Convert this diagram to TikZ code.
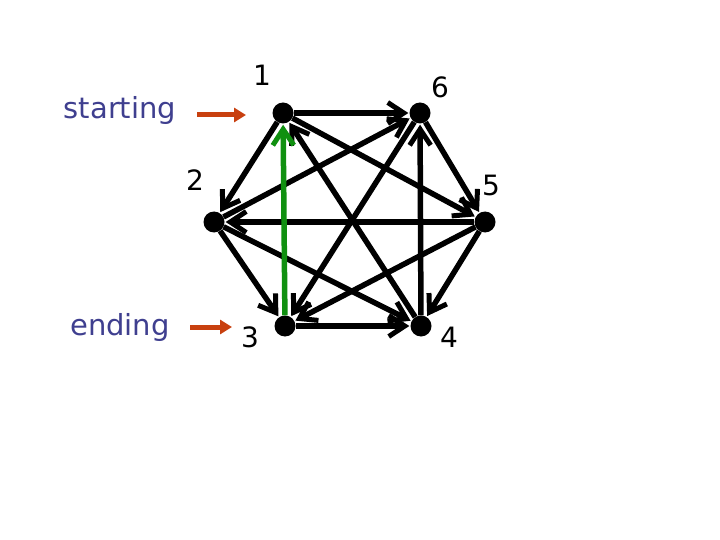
\documentclass[tikz,border=0pt]{standalone}
\usepackage{fontspec}
\setmainfont{DejaVu Sans}
\usetikzlibrary{arrows.meta}
\definecolor{lblblue}{HTML}{3F3F8F}
\definecolor{startred}{HTML}{C8400F}
\definecolor{edgegreen}{HTML}{109010}
\begin{document}
\begin{tikzpicture}[x=1pt,y=-1pt,
  vert/.style={circle,fill=black,inner sep=0pt,minimum size=21pt},
  numlbl/.style={font=\fontsize{28}{30}\selectfont,text=black,inner sep=0pt},
  sidelbl/.style={font=\fontsize{29}{32}\selectfont,text=lblblue,inner sep=0pt},
  edge/.style={line width=5.5pt,-{Straight Barb[length=16pt,width=21pt,line width=5pt]},shorten >=1pt},
  pointer/.style={line width=5pt,draw=startred,-{Triangle[length=12pt,width=14pt]}}]
\useasboundingbox (0,0) rectangle (720,540);
\node[vert] (n1) at (283,113) {};
\node[vert] (n6) at (420,113) {};
\node[vert] (n2) at (214,222) {};
\node[vert] (n5) at (485,222) {};
\node[vert] (n3) at (285,326) {};
\node[vert] (n4) at (421,326) {};
\node[numlbl] (l1) at (262,75) {1};
\node[numlbl] (l6) at (440,87) {6};
\node[numlbl] (l2) at (195,180) {2};
\node[numlbl] (l5) at (491,185) {5};
\node[numlbl] (l3) at (250,337) {3};
\node[numlbl] (l4) at (449,337) {4};
\node[sidelbl] (start) at (120,111) {starting};
\node[sidelbl] (endlbl) at (120,327) {ending};
\coordinate (sa) at (197,115);
\coordinate (sb) at (246,115);
\coordinate (ea) at (190,327);
\coordinate (eb) at (232,327);
\draw[pointer] (sa) -- (sb);
\draw[pointer] (ea) -- (eb);
\draw[edge] (n1) -- (n6);
\draw[edge] (n1) -- (n2);
\draw[edge] (n1) -- (n5);
\draw[edge] (n4) -- (n1);
\draw[edge] (n2) -- (n6);
\draw[edge] (n4) -- (n6);
\draw[edge] (n6) -- (n3);
\draw[edge] (n6) -- (n5);
\draw[edge] (n5) -- (n2);
\draw[edge] (n5) -- (n3);
\draw[edge] (n5) -- (n4);
\draw[edge] (n2) -- (n3);
\draw[edge] (n2) -- (n4);
\draw[edge] (n3) -- (n4);
\draw[edge,draw=edgegreen] (n3) -- (n1);
\end{tikzpicture}
\end{document}
